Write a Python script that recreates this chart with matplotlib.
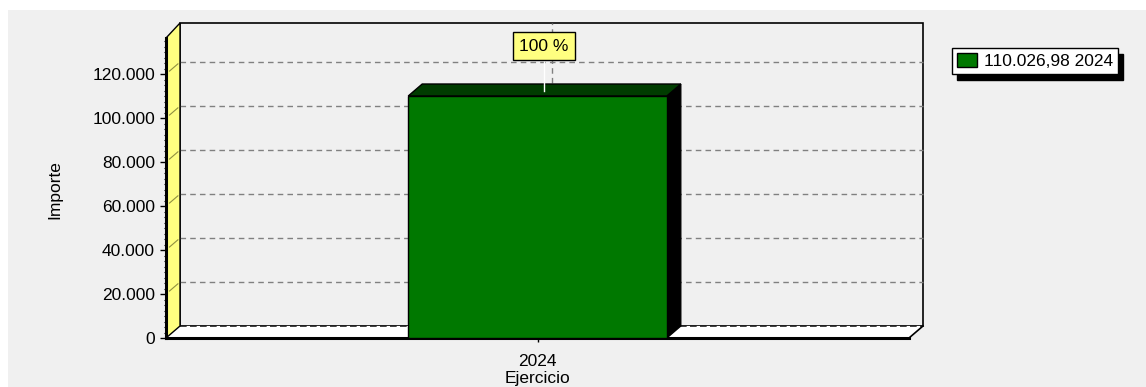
import matplotlib.pyplot as plt
from matplotlib.patches import Polygon, Rectangle
from matplotlib.legend_handler import HandlerPatch
from matplotlib.ticker import MultipleLocator

# data
years = ["2024"]
importe = [110026.98]
percent = ["100 %"]
yticks = [0, 20000, 40000, 60000, 80000, 100000, 120000]

W, H = 1146, 387
FS = 12.5
plt.rcParams['font.family'] = ['Liberation Sans', 'DejaVu Sans']
plt.rcParams['font.size'] = FS

fig = plt.figure(figsize=(W / 100, H / 100), dpi=100)
fig.patch.set_facecolor("white")
fig.patches.append(Rectangle((8 / W, 0), 1, 1 - 10 / H, transform=fig.transFigure,
                             facecolor="#f0f0f0", edgecolor="none", zorder=-10))

# front plane of the 3d box (pixels)
L, R, B, T = 166, 909, 338, 38
ax = fig.add_axes([L / W, 1 - B / H, (R - L) / W, (B - T) / H])
ax.set_facecolor("none")
for s in ax.spines.values():
    s.set_visible(False)

ymax = 136400
xmin, xmax = -0.5, 0.5
ax.set_xlim(xmin, xmax)
ax.set_ylim(0, ymax)

# depth of the walls, 14 px right and 12 px up
dx = 14 / (R - L) * (xmax - xmin)
dy = 12 / (B - T) * ymax
top_back = (B - 23) / (B - T) * ymax

kw = dict(clip_on=False)
grid = dict(color="#808080", lw=1, ls=(0, (4, 3)), clip_on=False)

# back wall
ax.add_patch(Polygon([(xmin + dx, dy), (xmax + dx, dy), (xmax + dx, top_back), (xmin + dx, top_back)],
                     closed=True, facecolor="#f0f0f0", edgecolor="black", lw=1.2, zorder=1, **kw))
for v in yticks[1:]:
    ax.plot([xmin + dx, xmax + dx], [v + dy, v + dy], zorder=2, **grid)
ax.plot([0 + dx, 0 + dx], [dy, top_back], zorder=2, **grid)

# floor
ax.add_patch(Polygon([(xmin, 0), (xmax, 0), (xmax + dx, dy), (xmin + dx, dy)],
                     closed=True, facecolor="white", edgecolor="none", zorder=2, **kw))
ax.plot([xmin + dx, xmax + dx], [dy, dy], color="#202020", lw=1.2, ls=(0, (4, 2)), zorder=3, **kw)
ax.plot([xmax, xmax + dx], [0, dy], color="black", lw=1.2, zorder=3, **kw)
ax.plot([xmin, xmax], [0, 0], color="black", lw=2.2, zorder=3, **kw)

# left wall
ax.add_patch(Polygon([(xmin, 0), (xmin, ymax), (xmin + dx, top_back), (xmin + dx, dy)],
                     closed=True, facecolor="#ffff80", edgecolor="black", lw=1, zorder=3, **kw))
for v in yticks[1:]:
    ax.plot([xmin + dx * 0.25, xmin + dx * 0.85], [v + dy * 0.25, v + dy * 0.85],
            color="#909040", lw=0.8, zorder=3, **kw)
ax.plot([xmin, xmin], [0, ymax], color="black", lw=2.2, zorder=4, **kw)

# bars
bw = 0.348
for i, (yr, v, p) in enumerate(zip(years, importe, percent)):
    x0, x1 = i - bw / 2, i + bw / 2
    ax.add_patch(Polygon([(x1, 0), (x1, v), (x1 + dx, v + dy), (x1 + dx, dy)], closed=True,
                         facecolor="black", edgecolor="black", lw=1, zorder=5, **kw))
    ax.add_patch(Polygon([(x0, v), (x1, v), (x1 + dx, v + dy), (x0 + dx, v + dy)], closed=True,
                         facecolor="#003c00", edgecolor="black", lw=1, zorder=5, **kw))
    ax.bar(i, v, width=bw, color="#007800", edgecolor="black", lw=1, zorder=6,
           label=f"{v:,.2f}".replace(",", "X").replace(".", ",").replace("X", ".") + " " + yr)
    ax.plot([i + dx * 0.45, i + dx * 0.45], [v + dy * 0.45, v + 0.17 * ymax],
            color="white", lw=1, zorder=6, **kw)
    ax.text(i + dx * 0.45, v + 0.166 * ymax, p, ha="center", va="center", fontsize=FS, zorder=7,
            bbox=dict(boxstyle="square,pad=0.36", facecolor="#ffff80", edgecolor="black", lw=1))

# axes
ax.set_xticks(range(len(years)), labels=years)
ax.set_yticks(yticks, labels=[f"{v:,}".replace(",", ".") for v in yticks])
ax.yaxis.set_minor_locator(MultipleLocator(2500))
ax.tick_params(axis="y", which="major", length=4.3, width=1, pad=3.6, labelsize=FS, colors="black")
ax.tick_params(axis="y", which="minor", length=1.6, width=0.8)
ax.tick_params(axis="x", length=3, width=1, pad=8.5, labelsize=FS)
ax.set_ylabel("Importe", fontsize=FS)
ax.yaxis.set_label_coords((55 - L) / (R - L), (B - 190) / (B - T))
ax.yaxis.label.set_va("center")
ax.set_xlabel("Ejercicio", fontsize=FS)
ax.xaxis.set_label_coords(0.5, (B - 378.5) / (B - T))
ax.xaxis.label.set_va("center")


def square_handle(legend, orig, xdescent, ydescent, width, height, fontsize):
    side = 0.92 * fontsize
    return Rectangle((width - side - xdescent, -ydescent), side, height)


leg = ax.legend(loc="upper left", bbox_to_anchor=(952 / W, 1 - 48 / H), bbox_transform=fig.transFigure,
                borderaxespad=0, fancybox=False, framealpha=1, fontsize=FS, borderpad=0.3,
                handlelength=1.15, handleheight=0.85, handletextpad=0.4,
                handler_map={Rectangle: HandlerPatch(patch_func=square_handle)},
                shadow={"ox": 3.6, "oy": -4.0, "facecolor": "black", "edgecolor": "black", "alpha": 1})
leg.get_frame().set_edgecolor("black")
leg.get_frame().set_linewidth(1)

fig.savefig("out.png", dpi=100)
